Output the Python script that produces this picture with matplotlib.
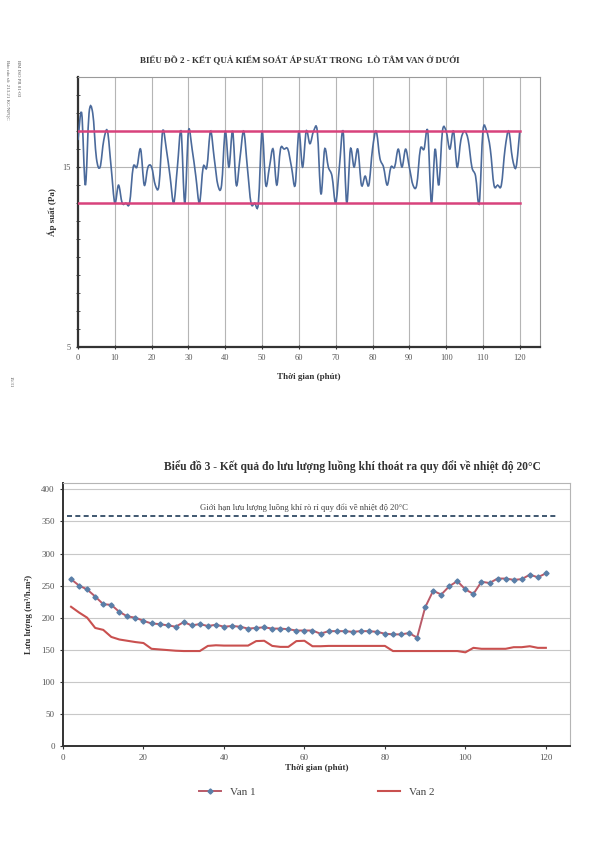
import matplotlib
matplotlib.use("Agg")
import matplotlib.pyplot as plt
from matplotlib.ticker import MultipleLocator
from matplotlib.path import Path
from matplotlib.patches import PathPatch
import numpy as np

plt.rcParams['font.family'] = ['Liberation Serif', 'DejaVu Serif']

# --- Chart 2: pressure in the furnace (one value per minute) ---
minutes = list(range(0, 121))
pressure = [16.5, 18, 14, 18, 18, 15.5, 15, 16.5, 17, 15,
            13, 14, 13, 13, 13, 15, 15, 16, 14, 15,
            15, 14, 14, 17, 16, 14.5, 13, 15, 17, 13,
            17, 16, 14.5, 13, 15, 15, 17, 15.5, 14, 14,
            17, 15, 17, 14, 15.5, 17, 15, 13, 13, 13,
            17, 14, 15, 16, 14, 16, 16, 16, 15, 14,
            17, 15, 17, 16.3, 17, 17, 13.5, 16, 15, 14.5,
            13, 15, 17, 13, 16, 15, 16, 14, 14.5, 14,
            16, 17, 15.5, 15, 14, 15, 15, 16, 15, 16,
            15, 14, 14, 16, 16, 17, 13, 16, 14, 17,
            17, 16, 17, 15, 16.5, 17, 16.5, 15, 14.5, 13,
            17, 17, 16, 14, 14, 14, 16, 17, 15.5, 15, 17]
upper_limit = 17
lower_limit = 13

# --- Chart 3: outgoing gas flow (every 2 minutes) ---
t_flow = list(range(2, 121, 2))
van1 = [260, 250, 244, 233, 221, 220, 209, 202, 200, 195,
        191, 190, 188, 186, 193, 188, 190, 187, 189, 186,
        187, 186, 183, 184, 185, 183, 183, 182, 180, 180,
        180, 175, 179, 179, 179, 178, 179, 179, 178, 175,
        174, 174, 176, 169, 216, 242, 236, 249, 257, 244,
        237, 256, 254, 261, 261, 259, 260, 267, 263, 269]
van2 = [217, 208, 200, 184, 181, 170, 166, 164, 162, 160.5,
        151.5, 150.5, 149.5, 148.5, 148, 148, 148, 156, 157, 156.5,
        156.5, 156.5, 156.5, 163.5, 164, 156, 154.5, 154.5, 163.5, 164,
        155.5, 155.5, 156, 156, 156, 156, 156, 156, 156, 156,
        148, 148, 148, 148, 148, 148, 148, 148, 148, 146,
        153, 151.5, 151.5, 151.5, 151.5, 154, 154, 155.5, 153, 153]
limit_flow = 358
limit_x = [1, 123]


def smooth_path(xs, ys):
    # Excel-style smoothed line: cubic Bezier segments through every point
    p = np.column_stack([xs, ys]).astype(float)
    verts = [p[0]]
    codes = [Path.MOVETO]
    n = len(p)
    for i in range(n - 1):
        p0 = p[i - 1] if i > 0 else p[i]
        p3 = p[i + 2] if i + 2 < n else p[i + 1]
        c1 = p[i] + (p[i + 1] - p0) / 6.0
        c2 = p[i + 1] - (p3 - p[i]) / 6.0
        verts += [c1, c2, p[i + 1]]
        codes += [Path.CURVE4] * 3
    return Path(verts, codes)


fig = plt.figure(figsize=(6, 8.57), dpi=100)

# margin notes
fig.text(0.013, 0.93, "Báo cáo số: 213.21 KC/NPQC", rotation=-90, fontsize=3.5,
         color='#555555', va='top', ha='center')
fig.text(0.030, 0.93, "BM ISO PR 01-03", rotation=-90, fontsize=3.5,
         color='#555555', va='top', ha='center')
fig.text(0.018, 0.555, "15/31", rotation=-90, fontsize=3.5, color='#555555',
         va='center', ha='center')

# ---------------- top chart ----------------
ax1 = fig.add_axes([0.13, 0.595, 0.77, 0.315])
ax1.set_xlim(0, 125.5)
ax1.set_ylim(5, 20)
ax1.set_xticks(range(0, 121, 10))
ax1.set_yticks([5, 15])
ax1.yaxis.set_minor_locator(MultipleLocator(1))
ax1.grid(True, which='major', color='#b5b5b5', lw=0.8)
ax1.add_patch(PathPatch(smooth_path(minutes, pressure), facecolor='none',
                        edgecolor='#4b6a9b', lw=1.2, zorder=3))
ax1.plot([0, 120], [upper_limit, upper_limit], color='#d8437c', lw=1.8, zorder=4)
ax1.plot([0, 120], [lower_limit, lower_limit], color='#d8437c', lw=1.8, zorder=4)
for s in ['top', 'right']:
    ax1.spines[s].set_color('#9a9a9a')
    ax1.spines[s].set_linewidth(0.8)
for s in ['left', 'bottom']:
    ax1.spines[s].set_color('#333333')
    ax1.spines[s].set_linewidth(1.6)
ax1.tick_params(axis='both', which='major', labelsize=6, colors='#333333',
                labelcolor='#555555', length=3, direction='inout')
ax1.tick_params(axis='y', which='minor', length=3, direction='inout', color='#333333')
ax1.set_title("BIỂU ĐỒ 2 - KẾT QUẢ KIỂM SOÁT ÁP SUẤT TRONG  LÒ TÂM VAN Ở DƯỚI",
              fontsize=6.5, fontweight='bold', color='#333333', pad=10, x=0.48)
ax1.set_ylabel("Áp suất (Pa)", fontsize=6.5, fontweight='bold', color='#333333',
               labelpad=4)
ax1.set_xlabel("Thời gian (phút)", fontsize=6.5, fontweight='bold', color='#333333',
               labelpad=8)

# ---------------- bottom chart ----------------
ax2 = fig.add_axes([0.105, 0.1295, 0.845, 0.307])
ax2.set_xlim(0, 126)
ax2.set_ylim(0, 410)
ax2.set_xticks(range(0, 121, 20))
ax2.set_yticks(range(0, 401, 50))
ax2.grid(True, axis='y', color='#c8c8c8', lw=0.8)
ax2.plot(t_flow, van2, color='#c9504f', lw=1.5, label='Van 2', zorder=3)
ax2.plot(t_flow, van1, color='#b95a68', lw=1.4, marker='D', markersize=2.6,
         markerfacecolor='#5a7fa8', markeredgecolor='#5a7fa8', label='Van 1', zorder=4)
ax2.plot(limit_x, [limit_flow, limit_flow], color='#1f3b57', lw=1.2,
         ls=(0, (3, 2)), zorder=3)
ax2.text(60, 372, "Giới hạn lưu lượng luồng khí rò rỉ quy đổi về nhiệt độ 20°C",
         ha='center', va='center', fontsize=6.2, color='#444444')
for s in ['top', 'right']:
    ax2.spines[s].set_color('#b5b5b5')
    ax2.spines[s].set_linewidth(0.8)
for s in ['left', 'bottom']:
    ax2.spines[s].set_color('#333333')
    ax2.spines[s].set_linewidth(1.4)
ax2.tick_params(axis='both', labelsize=6.5, colors='#333333', labelcolor='#555555',
                length=2.5)
ax2.set_title("Biểu đồ 3 - Kết quả đo lưu lượng luồng khí thoát ra quy đổi về nhiệt độ 20°C",
              fontsize=8.3, fontweight='bold', color='#333333', pad=9, x=0.57)
ax2.set_ylabel("Lưu lượng (m³/h.m²)", fontsize=6.5, fontweight='bold',
               color='#333333', labelpad=6)
ax2.set_xlabel("Thời gian (phút)", fontsize=6.5, fontweight='bold', color='#333333',
               labelpad=1)
handles, labels = ax2.get_legend_handles_labels()
ax2.legend(handles[::-1], labels[::-1], loc='upper center', bbox_to_anchor=(0.5, -0.12),
           ncol=2, frameon=False, fontsize=8, columnspacing=11, handlelength=2,
           labelcolor='#444444')

fig.savefig("out.png", dpi=100, facecolor='white')
